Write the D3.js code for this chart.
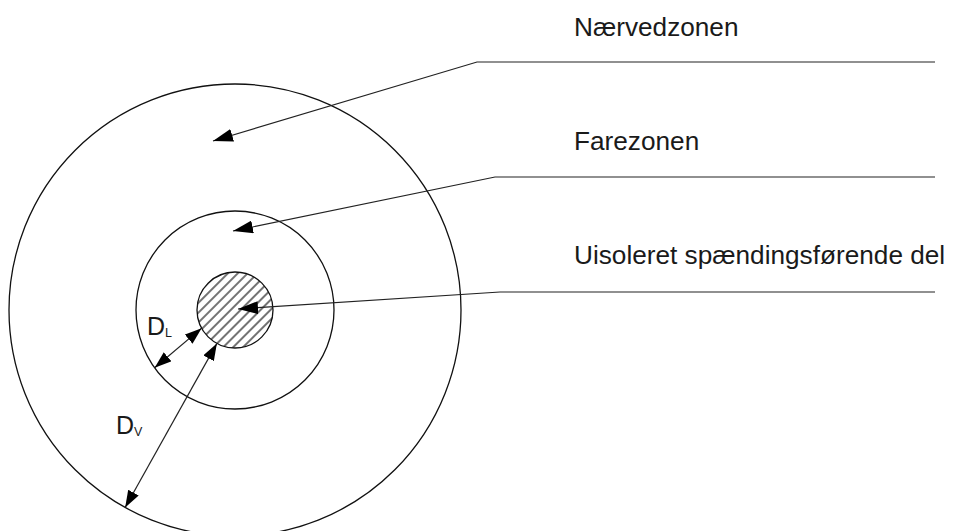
<!DOCTYPE html>
<html>
<head>
<meta charset="utf-8">
<script src="https://cdn.jsdelivr.net/npm/d3@7"></script>
<style>
  body { margin: 0; background: #fff; }
  svg { display: block; font-family: "Liberation Sans", Arial, sans-serif; }
</style>
</head>
<body>
<script>
//zones from inside out
var zoneNames = ["Uisoleret spændingsførende del", "Farezonen", "Nærvedzonen"];
var zoneRadius = [38, 99, 226];

//label rows (text baseline, leader line y, leader start x)
var labelBaseline = [264, 150, 36];
var leaderY = [292, 177, 62];
var leaderX = [500, 495, 477];

//arrow tips inside each zone (offset from centre)
var tipDx = [3, -2, -22];
var tipDy = [-1, -79, -169];

//dimension labels
var dimNames = ["D", "D"];
var dimSubs = ["L", "V"];

window.onload = drawDiagram();

function drawDiagram(){

    var width = 954,
        height = 531,
        cx = 235,
        cy = 310;

    var svg = d3.select("body")
        .append("svg")
        .attr("width", width)
        .attr("height", height);

    var r = d3.scaleLinear().domain([0, 226]).range([0, 226]);

    var defs = svg.append("defs");

    //hatch for the live part
    var pat = defs.append("pattern")
        .attr("id", "hatch")
        .attr("patternUnits", "userSpaceOnUse")
        .attr("width", 7)
        .attr("height", 7)
        .attr("patternTransform", "rotate(45 " + cx + " " + cy + ")");
    pat.append("line")
        .attr("x1", 1).attr("y1", 0)
        .attr("x2", 1).attr("y2", 7)
        .attr("stroke", "#000")
        .attr("stroke-width", 1.1);

    //arrowheads
    defs.append("marker")
        .attr("id", "head")
        .attr("viewBox", "0 0 20 13")
        .attr("refX", 20).attr("refY", 6.5)
        .attr("markerUnits", "userSpaceOnUse")
        .attr("markerWidth", 20).attr("markerHeight", 13)
        .attr("orient", "auto-start-reverse")
        .append("path")
        .attr("d", "M0,0L20,6.5L0,13Z")
        .attr("fill", "#000");

    defs.append("marker")
        .attr("id", "headSmall")
        .attr("viewBox", "0 0 17 12")
        .attr("refX", 17).attr("refY", 6)
        .attr("markerUnits", "userSpaceOnUse")
        .attr("markerWidth", 17).attr("markerHeight", 12)
        .attr("orient", "auto-start-reverse")
        .append("path")
        .attr("d", "M0,0L17,6L0,12Z")
        .attr("fill", "#000");

    //zone circles
    svg.selectAll(".zone")
        .data(zoneRadius)
        .enter()
        .append("circle")
        .attr("class", "zone")
        .attr("cx", cx)
        .attr("cy", cy)
        .attr("r", function(d){ return r(d); })
        .attr("fill", function(d, i){ return i == 0 ? "url(#hatch)" : "none"; })
        .attr("stroke", "#111")
        .attr("stroke-width", 1.3);

    //labels
    svg.selectAll(".zoneLabel")
        .data(zoneNames)
        .enter()
        .append("text")
        .attr("class", "zoneLabel")
        .attr("x", 574)
        .attr("y", function(d, i){ return labelBaseline[i]; })
        .attr("font-size", 26.2)
        .attr("fill", "#1a1a1a")
        .text(function(d){ return d; });

    //leader lines
    svg.selectAll(".leader")
        .data(zoneNames)
        .enter()
        .append("path")
        .attr("class", "leader")
        .attr("d", function(d, i){
            return "M935," + leaderY[i] + "L" + leaderX[i] + "," + leaderY[i] +
                "L" + (cx + tipDx[i]) + "," + (cy + tipDy[i]);
        })
        .attr("fill", "none")
        .attr("stroke", "#222")
        .attr("stroke-width", 1.2)
        .attr("marker-end", "url(#head)");

    //dimension arrows: D_L between live part and fare zone, D_V between live part and naervedzone
    var dimAngle = [Math.atan2(59, -82), Math.atan2(196, -109)];
    var innerAngle = [Math.atan2(19, -35), Math.atan2(35, -19)];
    var dimOuter = [zoneRadius[1], zoneRadius[2]];

    svg.selectAll(".dim")
        .data(dimAngle)
        .enter()
        .append("line")
        .attr("class", "dim")
        .attr("x1", function(d, i){ return cx + r(dimOuter[i]) * Math.cos(d); })
        .attr("y1", function(d, i){ return cy + r(dimOuter[i]) * Math.sin(d); })
        .attr("x2", function(d, i){ return cx + r(zoneRadius[0]) * Math.cos(innerAngle[i]); })
        .attr("y2", function(d, i){ return cy + r(zoneRadius[0]) * Math.sin(innerAngle[i]); })
        .attr("stroke", "#222")
        .attr("stroke-width", 1.2)
        .attr("marker-start", "url(#headSmall)")
        .attr("marker-end", "url(#headSmall)");

    var dimPos = [[147, 335], [116, 434]];

    var dimLabels = svg.selectAll(".dimLabel")
        .data(dimNames)
        .enter()
        .append("text")
        .attr("class", "dimLabel")
        .attr("x", function(d, i){ return dimPos[i][0]; })
        .attr("y", function(d, i){ return dimPos[i][1]; })
        .attr("font-size", 25)
        .attr("fill", "#1a1a1a");

    dimLabels.append("tspan")
        .text(function(d){ return d; });

    dimLabels.append("tspan")
        .attr("font-size", 12.5)
        .attr("dy", 2)
        .text(function(d, i){ return dimSubs[i]; });
}
</script>
</body>
</html>
